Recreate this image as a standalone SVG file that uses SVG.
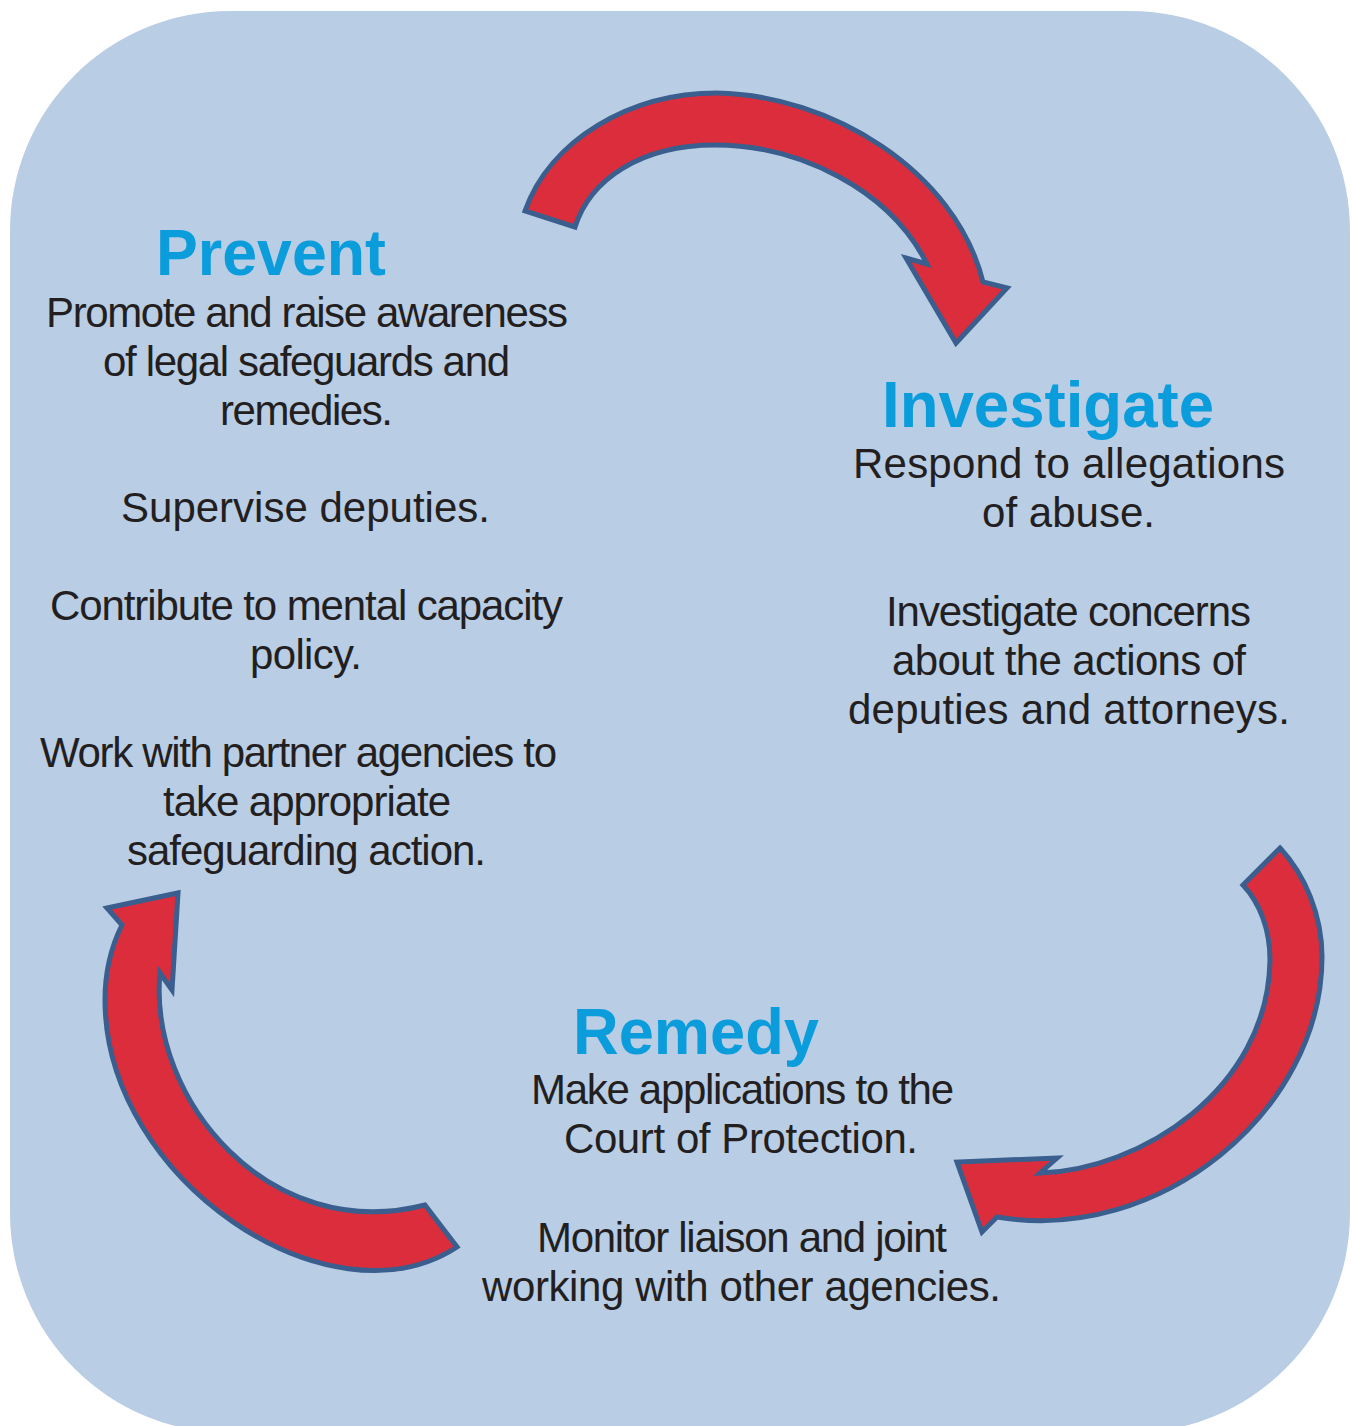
<svg xmlns="http://www.w3.org/2000/svg" width="1352" height="1426" viewBox="0 0 1352 1426">
<style>
.bg{fill:#B9CDE5}
.arrow{fill:#DC2D3C;stroke:#3A5F8E;stroke-width:5;stroke-linejoin:miter}
.title{font-family:"Liberation Sans",Arial,sans-serif;font-weight:bold;font-size:64px;fill:#0A9CDB}
.body{font-family:"Liberation Sans",Arial,sans-serif;font-size:42px;fill:#231F20}
</style>
<rect width="1352" height="1426" fill="#FFFFFF"/>
<rect class="bg" x="10" y="11" width="1340" height="1422" rx="220" ry="220"/>
<g id="connectors">
<path class="arrow" d="M525,211 C550,140 630,93 717,93 C830,95 955,170 983,282 L1007,288 L956,343 L906,258 L927,264 C890,190 800,145 715,145 C640,145 590,180 575,227 Z"/>
<path class="arrow" d="M1280,848 C1305,875 1322,915 1322,957 C1322,1110 1160,1245 997,1217 L982,1232 L957,1162 L1057,1158 L1040,1173 C1140,1170 1268,1090 1270,960 C1270,930 1260,903 1243,885 Z"/>
<path class="arrow" d="M107,908 L178,893 L172,990 L160,973 C148,1100 270,1245 425,1205 L457,1247 C330,1330 105,1180 105,1000 C105,970 112,945 122,925 Z"/>
</g>
<g id="prevent">
<text class="title" x="156" y="275" textLength="230" lengthAdjust="spacingAndGlyphs">Prevent</text>
<text class="body" x="46" y="327" textLength="522" lengthAdjust="spacing">Promote and raise awareness</text>
<text class="body" x="103" y="376" textLength="407" lengthAdjust="spacing">of legal safeguards and</text>
<text class="body" x="220" y="425" textLength="173" lengthAdjust="spacing">remedies.</text>
<text class="body" x="121" y="522" textLength="369" lengthAdjust="spacing">Supervise deputies.</text>
<text class="body" x="50" y="620" textLength="513" lengthAdjust="spacing">Contribute to mental capacity</text>
<text class="body" x="250" y="669" textLength="112" lengthAdjust="spacing">policy.</text>
<text class="body" x="40" y="767" textLength="517" lengthAdjust="spacing">Work with partner agencies to</text>
<text class="body" x="163" y="816" textLength="288" lengthAdjust="spacing">take appropriate</text>
<text class="body" x="127" y="865" textLength="359" lengthAdjust="spacing">safeguarding action.</text>
</g>
<g id="investigate">
<text class="title" x="882" y="427" textLength="332" lengthAdjust="spacingAndGlyphs">Investigate</text>
<text class="body" x="853" y="478" textLength="432" lengthAdjust="spacing">Respond to allegations</text>
<text class="body" x="982" y="527" textLength="173" lengthAdjust="spacing">of abuse.</text>
<text class="body" x="886" y="626" textLength="365" lengthAdjust="spacing">Investigate concerns</text>
<text class="body" x="892" y="675" textLength="354" lengthAdjust="spacing">about the actions of</text>
<text class="body" x="848" y="724" textLength="442" lengthAdjust="spacing">deputies and attorneys.</text>
</g>
<g id="remedy">
<text class="title" x="573" y="1054" textLength="246" lengthAdjust="spacingAndGlyphs">Remedy</text>
<text class="body" x="531" y="1104" textLength="423" lengthAdjust="spacing">Make applications to the</text>
<text class="body" x="564" y="1153" textLength="354" lengthAdjust="spacing">Court of Protection.</text>
<text class="body" x="537" y="1252" textLength="410" lengthAdjust="spacing">Monitor liaison and joint</text>
<text class="body" x="482" y="1301" textLength="519" lengthAdjust="spacing">working with other agencies.</text>
</g>
</svg>
